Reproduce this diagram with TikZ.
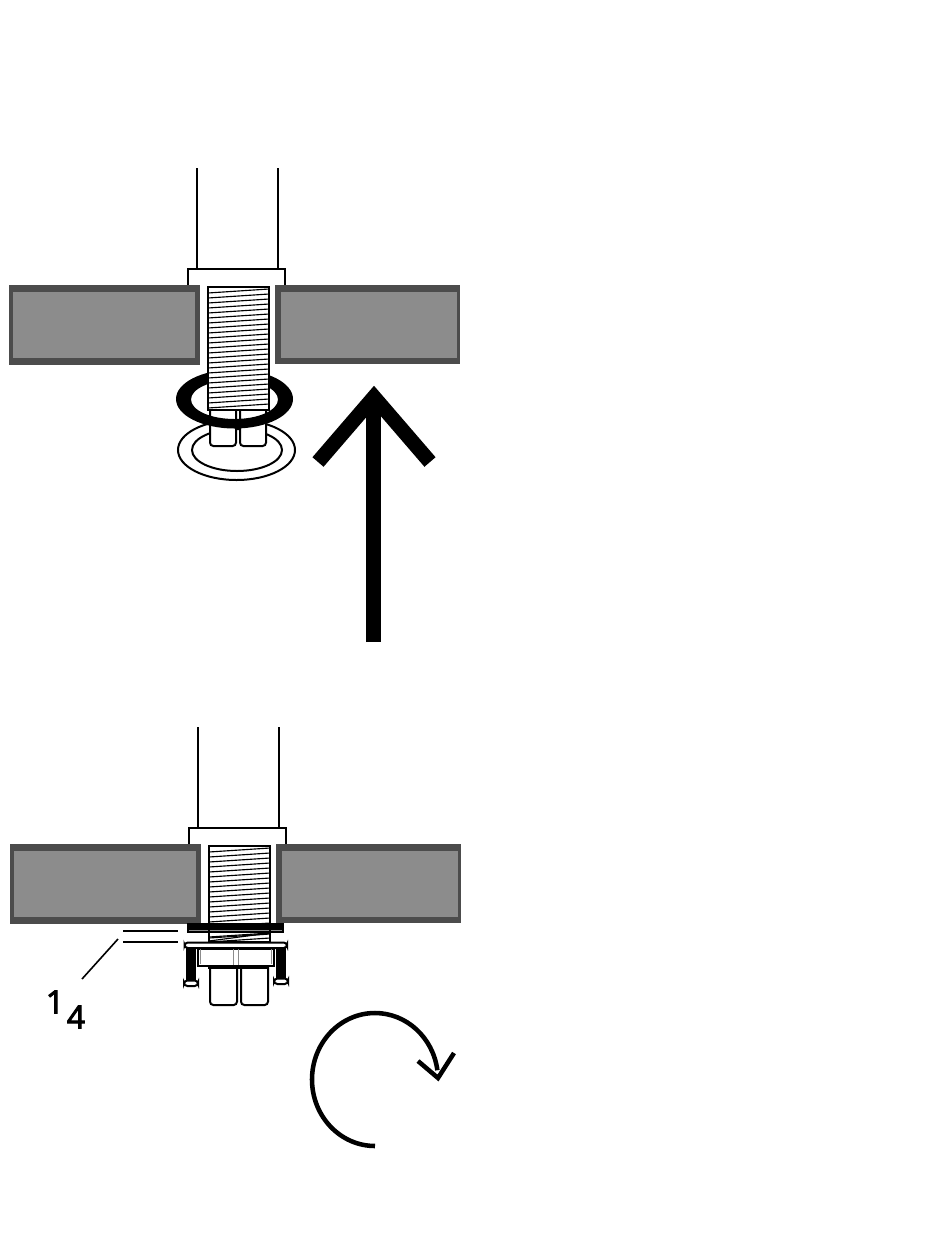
\documentclass[tikz,border=0pt]{standalone}
\usepackage{fontspec}
\newfontfamily\numfont[FakeBold=3]{Open Sans}
\usepackage{xcolor}
\colorlet{mydark}{black!70}
\colorlet{mygray}{black!45}

\begin{document}
\begin{tikzpicture}[x=0.75pt, y=-0.75pt,
                    line cap=butt, line join=miter,
                    outline/.style={black, line width=1.5pt},
                    thin outline/.style={black, line width=0.9pt},
                    hatch/.style={black, line width=0.85pt},
                    solid arrow/.style={black, line width=11pt},
                    turn arrow/.style={black, line width=3.4pt},
                    leader/.style={black, line width=1.2pt},
                    rounded part/.style={outline, fill=white, rounded corners=2.5pt},
                    number/.style={font=\numfont\fontsize{24}{24}\selectfont, inner sep=0pt}]

  \useasboundingbox (0,0) rectangle (950,1260);

% Tube, collar, both plates and threaded rod
  \def\drawJoint{
    \draw[outline] (197,168) -- (197,269);
    \draw[outline] (278,168) -- (278,269);
    \draw[outline, fill=white] (188,285) -- (188,269) -- (285,269) -- (285,285);
    \fill[mydark] (9,285) rectangle (200,365);
    \fill[mygray] (13,292) rectangle (195,358);
    \fill[mydark] (275,285) rectangle (460,364);
    \fill[mygray] (281,292) rectangle (457,358);
    \draw[outline, fill=white] (208,287) rectangle (269,\rodEnd);
    \foreach \h in {293,298,...,\hatchEnd}{
      \draw[hatch] (208,\h) -- ++(61,-4);
    }
  }

% Upper joint
  \draw[outline] (236.5,450) ellipse [x radius=58.5, y radius=30];
  \draw[outline] (237,450) ellipse [x radius=45, y radius=21];
  \draw[rounded part] (210,405) -- (210,446) -- (236,446) -- (236,405);
  \draw[rounded part] (240,405) -- (240,446) -- (266,446) -- (266,405);
  \fill[black, even odd rule] (234.5,399) ellipse [x radius=58.5, y radius=29.5]
                              (234.5,399.5) ellipse [x radius=43.5, y radius=19.5];
  \def\rodEnd{410}
  \def\hatchEnd{408}
  \drawJoint

% Straight arrow
  \draw[solid arrow] (373.5,642) -- (373.5,400);
  \draw[solid arrow] (318,462) -- (374,397) -- (430,462);

% Lower joint
  \begin{scope}[shift={(1,559)}]
    \def\rodEnd{383}
    \def\hatchEnd{383}
    \drawJoint
  \end{scope}
  \fill[black] (187,923) rectangle (284,928);
  \draw[thin outline, fill=mygray] (188,929) rectangle (283,932);
  \draw[hatch] (209,941) -- (270,933);
  \draw[hatch] (209,938) -- (270,934);

% Small parts below the washer
  \draw[rounded part] (210,965) -- (210,1005) -- (237,1005) -- (237,965);
  \draw[rounded part] (241,965) -- (241,1005) -- (268,1005) -- (268,965);
  \draw[outline, fill=white] (209,966) rectangle (268,968);
  \fill[black] (186,948) rectangle (196,981);
  \fill[black] (276,948) rectangle (286,979);
  \draw[rounded part] (184,980.5) rectangle (198,986);
  \draw[rounded part] (274,978.5) rectangle (288,984);
  \draw[outline, fill=white] (197.5,949) rectangle (274,966);
  \draw[black!45, line width=0.6pt] (200.5,949) -- (200.5,964);
  \draw[black!45, line width=0.6pt] (271,949) -- (271,964);
  \draw[black!45, line width=0.6pt] (233.5,949) -- (233.5,965);
  \draw[black!45, line width=0.6pt] (238,949) -- (238,965);
  \draw[rounded part] (184.5,942.5) rectangle (287,948);
  \draw[outline] (209,928) -- (209,942.5);
  \draw[outline] (270,928) -- (270,942.5);

% Label with its leader
  \coordinate (shim top a) at (123,931);
  \coordinate (shim top b) at (178,931);
  \coordinate (shim low a) at (123,942);
  \coordinate (shim low b) at (178,942);
  \coordinate (leader start) at (118,939);
  \node[number] (label one) at (55,1002) {1};
  \node[number] (label four) at (76,1017) {4};
  \coordinate (leader end) at (82,979);
  \draw[leader] (shim top a) -- (shim top b);
  \draw[leader] (shim low a) -- (shim low b);
  \draw[leader] (leader start) -- (leader end);

% Turning arrow
  \draw[turn arrow] (375,1146) arc[start angle=90, end angle=352, x radius=63, y radius=66.5];
  \draw[turn arrow] (418,1061) -- (438,1078) -- (454,1053);
\end{tikzpicture}
\end{document}
